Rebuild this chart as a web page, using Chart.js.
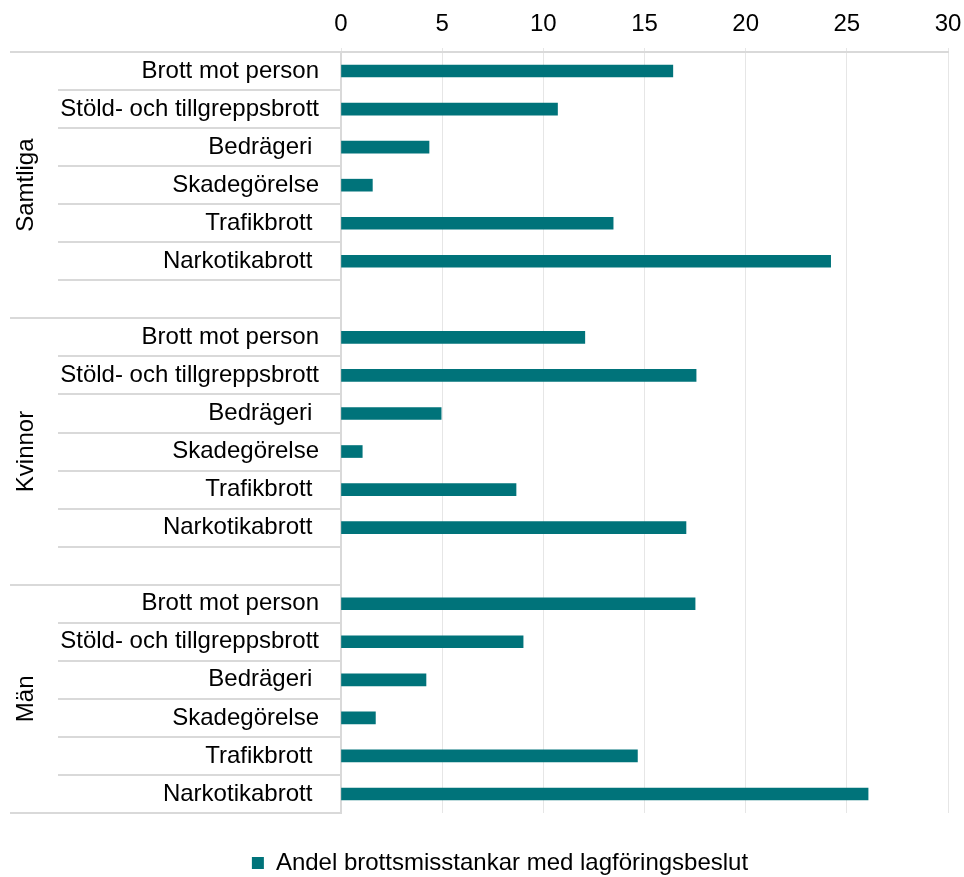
<!DOCTYPE html>
<html lang="sv">
<head>
<meta charset="UTF-8">
<title>Andel brottsmisstankar med lagföringsbeslut</title>
<style>
  body { margin: 0; background: #ffffff; }
  #wrap { width: 964px; height: 877px; }
</style>
</head>
<body>
<div id="wrap"><canvas id="chart" width="964" height="877"></canvas></div>

<script src="https://cdn.jsdelivr.net/npm/chart.js"></script>
<script>
// categories in each group (trailing spaces as in the original labels)
const categories = ['Brott mot person', 'Stöld- och tillgreppsbrott', 'Bedrägeri ', 'Skadegörelse', 'Trafikbrott ', 'Narkotikabrott '];
const groups = ['Samtliga', 'Kvinnor', 'Män'];

// percent values
const samtliga = [16.4, 10.7, 4.35, 1.55, 13.45, 24.2];
const kvinnor = [12.05, 17.55, 4.95, 1.05, 8.65, 17.05];
const man = [17.5, 9.0, 4.2, 1.7, 14.65, 26.05];

const xTicks = [0, 5, 10, 15, 20, 25, 30];
const seriesName = 'Andel brottsmisstankar med lagföringsbeslut';

// build rows: each group followed by an empty spacer row (not after last)
const labels = [...categories, '', ...categories, '', ...categories];
const values = [...samtliga, null, ...kvinnor, null, ...man];
const groupStarts = [0, 7, 14];

const FONT = '"Liberation Sans", Arial, sans-serif';
const GRID = '#d9d9d9';

// separators in the label column + rotated group names
const groupLines = {
  id: 'groupLines',
  afterDraw(chart) {
    const ctx = chart.ctx;
    const y = chart.scales.y;
    const left = chart.chartArea.left;
    ctx.save();
    ctx.strokeStyle = GRID;
    ctx.lineWidth = 2;
    for (let i = 0; i <= labels.length; i++) {
      const py = Math.round(y.getPixelForValue(i - 0.5));
      const edge = groupStarts.includes(i) || i === labels.length;
      ctx.beginPath();
      ctx.moveTo(edge ? 10 : 58, py);
      ctx.lineTo(left, py);
      ctx.stroke();
    }
    ctx.fillStyle = '#000';
    ctx.font = '24px ' + FONT;
    ctx.textAlign = 'center';
    ctx.textBaseline = 'middle';
    groups.forEach((g, k) => {
      const first = groupStarts[k];
      const last = k < groups.length - 1 ? groupStarts[k + 1] - 1 : labels.length - 1;
      const cy = (y.getPixelForValue(first - 0.5) + y.getPixelForValue(last + 0.5)) / 2;
      ctx.save();
      ctx.translate(26, cy);
      ctx.rotate(-Math.PI / 2);
      ctx.fillText(g, 0, 0);
      ctx.restore();
    });
    ctx.restore();
  }
};

new Chart(document.getElementById('chart'), {
  type: 'bar',
  data: {
    labels: labels,
    datasets: [{
      label: seriesName,
      data: values,
      backgroundColor: '#00737a',
      barThickness: 12
    }]
  },
  options: {
    indexAxis: 'y',
    responsive: false,
    animation: false,
    devicePixelRatio: 1,
    layout: { padding: { left: 52, right: 16, top: 0, bottom: 0 } },
    scales: {
      x: {
        position: 'top',
        min: 0,
        max: 30,
        afterBuildTicks: s => { s.ticks = xTicks.map(v => ({ value: v })); },
        afterFit: s => { s.height = 52; s.paddingLeft = 0; s.paddingRight = 0; },
        grid: { color: '#e6e6e6', lineWidth: 1, drawTicks: true, tickLength: 4 },
        border: { color: GRID, width: 2 },
        ticks: { color: '#000', padding: 9, font: { family: FONT, size: 24 } }
      },
      y: {
        afterFit: s => { s.width = 289; },
        grid: { display: false },
        border: { color: GRID, width: 2 },
        ticks: { color: '#000', padding: 14, autoSkip: false, font: { family: FONT, size: 24 } }
      }
    },
    plugins: {
      tooltip: { enabled: false },
      legend: {
        position: 'bottom',
        maxHeight: 64,
        labels: {
          color: '#000',
          boxWidth: 12,
          boxHeight: 12,
          padding: 38,
          font: { family: FONT, size: 24 }
        }
      }
    }
  },
  plugins: [groupLines]
});
</script>
</body>
</html>
